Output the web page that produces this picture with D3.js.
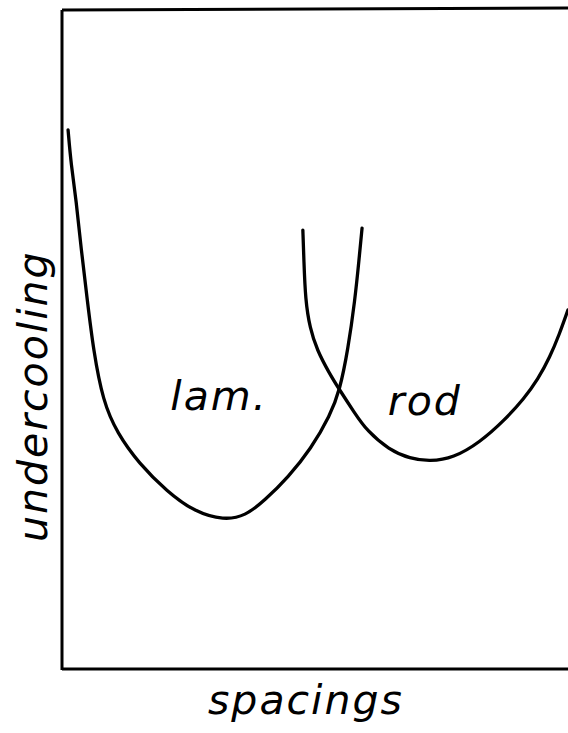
<!DOCTYPE html>
<html>
<head>
<meta charset="utf-8">
<script src="https://cdn.jsdelivr.net/npm/d3@7"></script>
<style>
  html, body { margin: 0; padding: 0; background: #fff; }
  svg { display: block; }
  .lbl { font-family: "DejaVu Sans", sans-serif; font-style: italic; font-size: 41px; letter-spacing: 2px; fill: #000; }
</style>
</head>
<body>
<svg id="chart" width="568" height="733"></svg>
<script>
// Schematic undercooling vs. spacing curves (arbitrary units, 0-100 on both axes)
const lamSpacing = [1.2, 1.8, 2.8, 3.8, 5.0, 6.2, 8.1, 10.9, 15.2, 20.8, 26.3, 32.0, 36.2, 40.1, 44.7, 49.2, 53.0, 54.9, 56.5, 57.9, 58.7, 59.3];
const lamUndercooling = [81.8, 76.5, 71.2, 63.6, 56.0, 48.4, 40.6, 35.8, 31.2, 26.9, 23.8, 22.6, 23.2, 25.6, 29.1, 33.4, 38.5, 42.3, 48.4, 56.0, 62.1, 66.9];

const rodSpacing = [47.6, 47.8, 48.1, 49.0, 50.4, 52.8, 54.9, 57.7, 60.3, 64.6, 68.8, 72.7, 77.3, 82.6, 87.5, 91.3, 94.1, 96.4, 98.3, 100];
const rodUndercooling = [66.6, 62.1, 56.0, 51.7, 48.4, 44.9, 42.3, 39.0, 36.1, 33.3, 31.9, 31.5, 32.0, 34.4, 37.8, 41.0, 44.0, 47.3, 50.8, 54.5];

const curveLabels = ["lam.", "rod"];
const labelSpacing = [21.4, 64.4];
const labelUndercooling = [39.3, 38.5];

const xTitle = "spacings";
const yTitle = "undercooling";

const svg = d3.select("#chart");

const x = d3.scaleLinear().domain([0, 100]).range([62, 568]);
const y = d3.scaleLinear().domain([0, 100]).range([669, 10]);

// frame: left axis, bottom axis, top border
const frame = svg.append("g").attr("stroke", "#000").attr("stroke-width", 3).attr("fill", "none");
frame.append("line").attr("x1", x(0)).attr("x2", x(0)).attr("y1", y(100)).attr("y2", y(0) + 1);
frame.append("line").attr("x1", x(0)).attr("x2", x(100)).attr("y1", y(0)).attr("y2", y(0));
frame.append("line").attr("x1", x(0)).attr("x2", x(100)).attr("y1", y(100)).attr("y2", y(100) - 2);

const line = d3.line()
  .x(d => x(d[0]))
  .y(d => y(d[1]))
  .curve(d3.curveBasis);

const lam = d3.zip(lamSpacing, lamUndercooling);
const rod = d3.zip(rodSpacing, rodUndercooling);

svg.append("g").selectAll("path")
  .data([lam, rod])
  .join("path")
  .attr("d", line)
  .attr("fill", "none")
  .attr("stroke", "#000")
  .attr("stroke-width", 3.3)
  .attr("stroke-linejoin", "round")
  .attr("stroke-linecap", "round");

svg.append("g").selectAll("text")
  .data(curveLabels)
  .join("text")
  .attr("class", "lbl")
  .attr("x", (d, i) => x(labelSpacing[i]))
  .attr("y", (d, i) => y(labelUndercooling[i]))
  .text(d => d);

svg.append("text")
  .attr("class", "lbl")
  .attr("x", 208)
  .attr("y", 714)
  .text(xTitle);

svg.append("text")
  .attr("class", "lbl")
  .attr("transform", "translate(47,542) rotate(-90)")
  .text(yTitle);
</script>
</body>
</html>
